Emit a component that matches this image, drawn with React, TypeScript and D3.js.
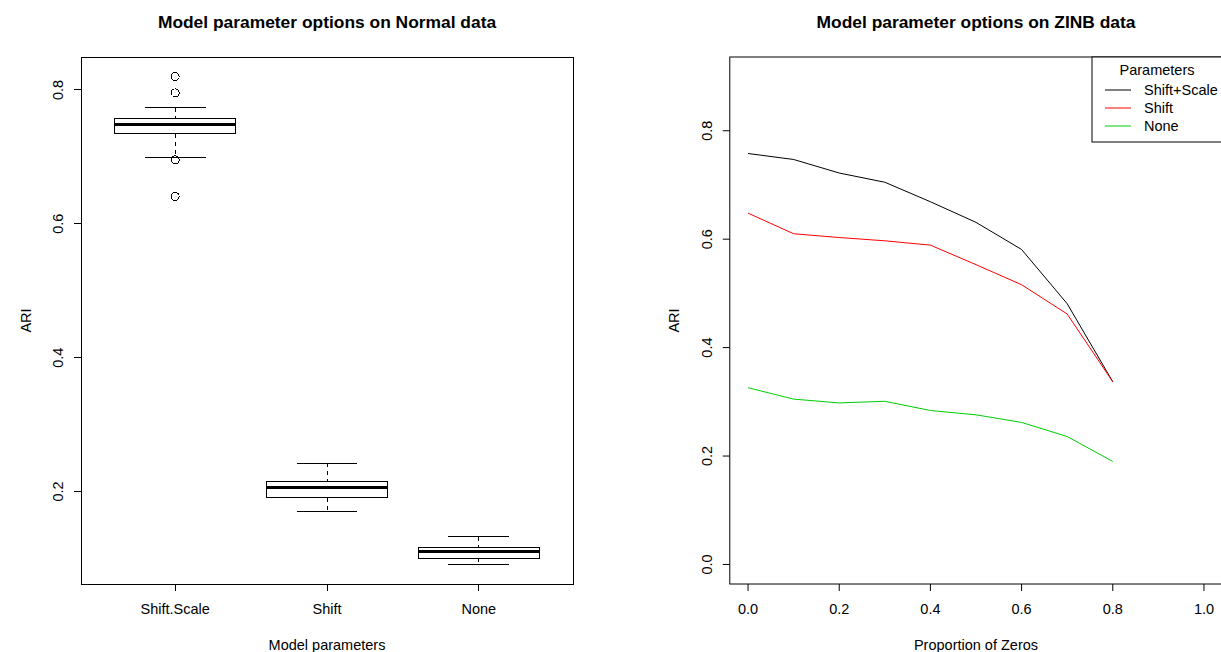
import * as d3 from "d3";

const W = 1221;
const H = 652;
const FONT = "'Liberation Sans', Arial, Helvetica, sans-serif";
const BASE = 14.5;

// left panel: boxplot summary per model parameter option
const groups = ["Shift.Scale", "Shift", "None"];
const whiskerLow = [0.6985, 0.1697, 0.091];
const q1 = [0.7343, 0.1906, 0.1];
const median = [0.7478, 0.206, 0.111];
const q3 = [0.7577, 0.2149, 0.1169];
const whiskerHigh = [0.7736, 0.2422, 0.1324];
const outliers = [[0.82, 0.7955, 0.6955, 0.641], [], []];
const leftTicks = [0.2, 0.4, 0.6, 0.8];

// right panel: ARI vs proportion of zeros
const zeroProps = [0, 0.1, 0.2, 0.3, 0.4, 0.5, 0.6, 0.7, 0.8];
const shiftScale = [0.758, 0.747, 0.722, 0.705, 0.669, 0.631, 0.581, 0.481, 0.337];
const shiftOnly = [0.648, 0.61, 0.603, 0.597, 0.589, 0.553, 0.516, 0.462, 0.337];
const noneParams = [0.326, 0.305, 0.298, 0.301, 0.284, 0.276, 0.262, 0.236, 0.19];
const seriesNames = ["Shift+Scale", "Shift", "None"];
const seriesColors = ["#000000", "#ff0000", "#00cd00"];
const rightXTicks = [0, 0.2, 0.4, 0.6, 0.8, 1.0];
const rightYTicks = [0, 0.2, 0.4, 0.6, 0.8];

// R-style 4% axis expansion
function expand([a, b]: [number, number]): [number, number] {
  const pad = (b - a) * 0.04;
  return [a - pad, b + pad];
}

const TOP = 57;
const BOTTOM = 584;

function YAxis({ x, scale, ticks }: { x: number; scale: any; ticks: number[] }) {
  return (
    <g>
      {ticks.map((t) => (
        <g key={t}>
          <line x1={x - 7} x2={x} y1={scale(t)} y2={scale(t)} stroke="#000" />
          <text
            transform={`translate(${x - 18},${scale(t)}) rotate(-90)`}
            textAnchor="middle"
            fontSize={BASE}
          >
            {t.toFixed(1)}
          </text>
        </g>
      ))}
    </g>
  );
}

function LeftPanel() {
  const x = d3.scaleLinear().domain([0.38, 3.62]).range([81, 573]);
  const all = [...whiskerLow, ...whiskerHigh, ...outliers.flat()];
  const y = d3
    .scaleLinear()
    .domain(expand(d3.extent(all) as [number, number]))
    .range([BOTTOM, TOP]);
  const half = 0.4;
  const staple = 0.2;

  return (
    <g>
      <rect x={81} y={TOP} width={492} height={BOTTOM - TOP} fill="none" stroke="#000" />
      {groups.map((g, i) => {
        const cx = x(i + 1);
        const x0 = x(i + 1 - half);
        const x1 = x(i + 1 + half);
        const s0 = x(i + 1 - staple);
        const s1 = x(i + 1 + staple);
        return (
          <g key={g}>
            <line x1={cx} x2={cx} y1={y(whiskerHigh[i])} y2={y(q3[i])} stroke="#000" strokeDasharray="4,4" />
            <line x1={cx} x2={cx} y1={y(q1[i])} y2={y(whiskerLow[i])} stroke="#000" strokeDasharray="4,4" />
            <line x1={s0} x2={s1} y1={y(whiskerHigh[i])} y2={y(whiskerHigh[i])} stroke="#000" />
            <line x1={s0} x2={s1} y1={y(whiskerLow[i])} y2={y(whiskerLow[i])} stroke="#000" />
            <rect x={x0} y={y(q3[i])} width={x1 - x0} height={y(q1[i]) - y(q3[i])} fill="#fff" stroke="#000" />
            <line x1={x0} x2={x1} y1={y(median[i])} y2={y(median[i])} stroke="#000" strokeWidth={3} />
            {outliers[i].map((o, j) => (
              <circle key={j} cx={cx} cy={y(o)} r={4} fill="none" stroke="#000" />
            ))}
            <line x1={cx} x2={cx} y1={BOTTOM} y2={BOTTOM + 7} stroke="#000" />
            <text x={cx} y={614} textAnchor="middle" fontSize={BASE}>
              {g}
            </text>
          </g>
        );
      })}
      <YAxis x={81} scale={y} ticks={leftTicks} />
      <text x={327} y={28} textAnchor="middle" fontSize={BASE * 1.2} fontWeight="bold">
        Model parameter options on Normal data
      </text>
      <text x={327} y={650} textAnchor="middle" fontSize={BASE}>
        Model parameters
      </text>
      <text transform={`translate(31,${(TOP + BOTTOM) / 2}) rotate(-90)`} textAnchor="middle" fontSize={BASE}>
        ARI
      </text>
    </g>
  );
}

function RightPanel() {
  const x = d3.scaleLinear().domain(expand([0, 1])).range([729.8, 1222.2]);
  const y = d3.scaleLinear().domain(expand([0, 0.9])).range([BOTTOM, TOP]);
  const series = [shiftScale, shiftOnly, noneParams];
  const line = d3
    .line<number>()
    .x((_, i) => x(zeroProps[i]))
    .y((d) => y(d));

  const lx = 1092;
  return (
    <g>
      <rect x={729.8} y={TOP} width={495} height={BOTTOM - TOP} fill="none" stroke="#000" />
      {series.map((s, i) => (
        <path key={i} d={line(s) || ""} fill="none" stroke={seriesColors[i]} strokeWidth={1} />
      ))}
      {rightXTicks.map((t) => (
        <g key={t}>
          <line x1={x(t)} x2={x(t)} y1={BOTTOM} y2={BOTTOM + 7} stroke="#000" />
          <text x={x(t)} y={614} textAnchor="middle" fontSize={BASE}>
            {t.toFixed(1)}
          </text>
        </g>
      ))}
      <YAxis x={729.8} scale={y} ticks={rightYTicks} />

      {/* legend, top right */}
      <rect x={lx} y={TOP} width={140} height={85} fill="#fff" stroke="#000" />
      <text x={1157} y={75} textAnchor="middle" fontSize={BASE}>
        Parameters
      </text>
      {seriesNames.map((n, i) => (
        <g key={n}>
          <line x1={1105} x2={1131} y1={90 + i * 18} y2={90 + i * 18} stroke={seriesColors[i]} />
          <text x={1144} y={95 + i * 18} fontSize={BASE}>
            {n}
          </text>
        </g>
      ))}

      <text x={976} y={28} textAnchor="middle" fontSize={BASE * 1.2} fontWeight="bold">
        Model parameter options on ZINB data
      </text>
      <text x={976} y={650} textAnchor="middle" fontSize={BASE}>
        Proportion of Zeros
      </text>
      <text transform={`translate(679,${(TOP + BOTTOM) / 2}) rotate(-90)`} textAnchor="middle" fontSize={BASE}>
        ARI
      </text>
    </g>
  );
}

export default function App() {
  return (
    <svg
      width={W}
      height={H}
      style={{ position: "absolute", left: 0, top: 0, background: "#fff" }}
      fontFamily={FONT}
      fill="#000"
    >
      <rect width={W} height={H} fill="#fff" />
      <g shapeRendering="crispEdges">
        <LeftPanel />
      </g>
      <RightPanel />
    </svg>
  );
}
